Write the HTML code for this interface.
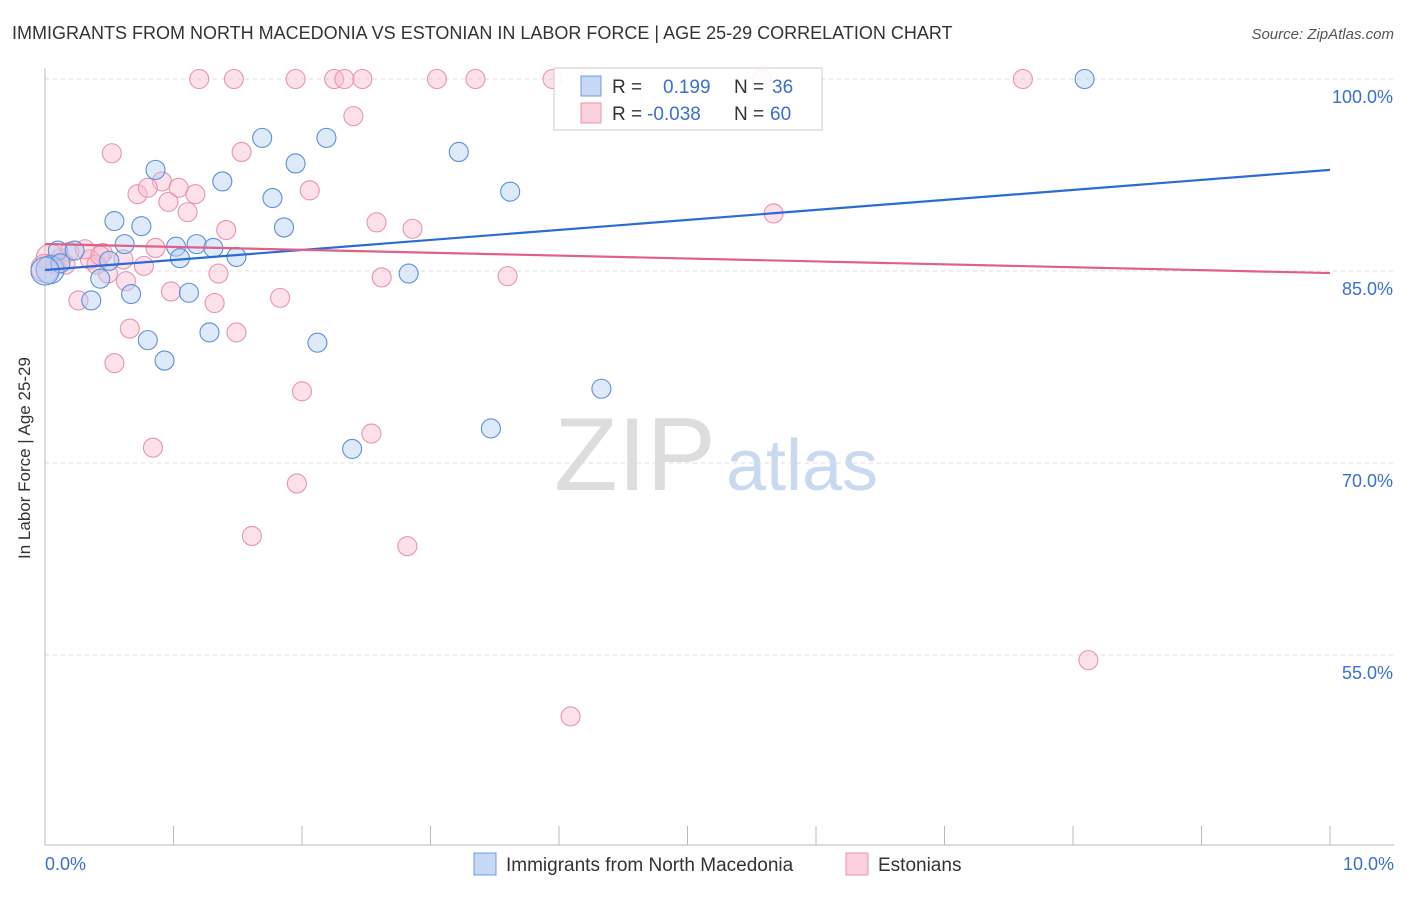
<!DOCTYPE html>
<html><head><meta charset="utf-8"><style>
body{margin:0;background:#fff;font-family:"Liberation Sans",sans-serif;}
svg text{font-family:"Liberation Sans",sans-serif;}
</style></head><body>
<svg id="c" width="1406" height="892">
<text x="12" y="39" font-size="18" fill="#333">IMMIGRANTS FROM NORTH MACEDONIA VS ESTONIAN IN LABOR FORCE | AGE 25-29 CORRELATION CHART</text>
<text x="1394" y="39" font-size="15" fill="#555" text-anchor="end" font-style="italic">Source: ZipAtlas.com</text>
<text x="30" y="458" font-size="17" fill="#333" text-anchor="middle" transform="rotate(-90 30 458)">In Labor Force | Age 25-29</text>
<g><text x="635" y="490" font-size="104" fill="#ddd" text-anchor="middle" font-family="Liberation Serif">ZIP</text><text x="802" y="490" font-size="72" fill="#c9d9ef" text-anchor="middle">atlas</text></g>
<g id="grid"></g><g id="pts"></g><g id="lines"></g>
<g>
<rect x="554" y="68" width="268" height="62" fill="#fff" fill-opacity="0.9" stroke="#ccc"/>
<rect x="581" y="76" width="20" height="20" fill="#c5d9f5" stroke="#6d9de0"/>
<rect x="581" y="103" width="20" height="20" fill="#fbd0dd" stroke="#e993b0"/>
<text x="612" y="93" font-size="19" fill="#333">R = </text><text x="663" y="93" font-size="19" fill="#3a6fd0">0.199</text>
<text x="734" y="93" font-size="19" fill="#333">N = </text><text x="772" y="93" font-size="19" fill="#3a6fd0">36</text>
<text x="612" y="120" font-size="19" fill="#333">R = </text><text x="647" y="120" font-size="19" fill="#3a6fd0">-0.038</text>
<text x="734" y="120" font-size="19" fill="#333">N = </text><text x="770" y="120" font-size="19" fill="#3a6fd0">60</text>
</g>
<g>
<rect x="474" y="853" width="22" height="22" fill="#c5d9f5" stroke="#6d9de0"/>
<text x="506" y="871" font-size="19" fill="#333">Immigrants from North Macedonia</text>
<rect x="846" y="853" width="22" height="22" fill="#fbd0dd" stroke="#e993b0"/>
<text x="878" y="871" font-size="19" fill="#333">Estonians</text>
</g>
</svg>
<script>
const yTicks=[100,85,70,55];
const xTickLabels=["0.0%","10.0%"];
const blueX=[8.09,1.69,2.19,1.95,3.22,0.86,1.38,3.62,1.77,0.54,0.75,1.86,0.62,1.02,1.18,1.31,1.05,1.49,0.50,0.43,2.83,0.67,1.12,0.36,1.28,0.80,2.12,0.93,4.33,3.47,2.39,0.10,0.23,0.04,0.12,0.0];
const blueY=[100,95.4,95.4,93.4,94.3,92.9,92.0,91.2,90.7,88.9,88.5,88.4,87.1,86.9,87.1,86.8,86.0,86.1,85.8,84.4,84.8,83.2,83.3,82.7,80.2,79.6,79.4,78.0,75.8,72.7,71.1,86.6,86.6,85.1,85.6,85.0];
const pinkX=[1.20,1.47,1.95,2.25,2.33,2.47,3.05,3.35,3.95,5.58,7.61,2.40,0.52,1.53,0.91,0.72,0.80,1.04,1.17,0.96,1.11,2.06,2.58,2.86,1.41,5.67,0.86,0.45,0.61,0.77,1.35,2.62,3.60,0.63,0.98,1.83,0.26,1.32,0.66,1.49,0.54,2.00,2.54,0.84,1.96,1.61,2.82,8.12,4.09,0.12,0.19,0.35,0.40,0.04,0.08,0.16,0.31,0.43,0.49,0.0];
const pinkY=[100,100,100,100,100,100,100,100,100,100,100,97.1,94.2,94.3,92.0,91.0,91.5,91.5,91.0,90.4,89.6,91.3,88.8,88.3,88.2,89.5,86.8,86.4,85.9,85.4,84.8,84.5,84.6,84.2,83.4,82.9,82.7,82.5,80.5,80.2,77.8,75.6,72.3,71.2,68.4,64.3,63.5,54.6,50.2,86.0,86.5,85.9,85.5,86.0,85.5,85.5,86.7,86.2,84.8,85.2];
const blueTrend=[85.08,92.9];
const pinkTrend=[87.11,84.84];
const X=v=>45+v*128.5, Y=v=>79+(100-v)*12.8;
const NS="http://www.w3.org/2000/svg";
function mk(t,a,p){const e=document.createElementNS(NS,t);for(const k in a)e.setAttribute(k,a[k]);p.appendChild(e);return e;}
const g=document.getElementById('grid');
yTicks.forEach(t=>{
 const l=mk('line',{x1:45,x2:1394,y1:Y(t),y2:Y(t),stroke:'#ddd','stroke-dasharray':'4 4'},g);
 
 
 const tx=mk('text',{x:1393,y:Y(t)+24,'font-size':18,fill:'#3a6fd0','text-anchor':'end'},g);
 tx.textContent=t.toFixed(1)+'%';
 
 
});
const ax=mk('line',{x1:45,x2:45,y1:68,y2:845,stroke:'#bbb'},g);


const bx=mk('line',{x1:45,x2:1394,y1:845,y2:845,stroke:'#bbb'},g);


for(let i=0;i<=10;i++){const t=mk('line',{x1:X(i),x2:X(i),y1:826,y2:845,stroke:'#bbb'},g);
 
 }
[[0,'start',45],[10,'end',1394]].forEach((d,i)=>{const t=mk('text',{x:d[2],y:870,'font-size':18,fill:'#3a6fd0','text-anchor':d[1]},g);t.textContent=xTickLabels[i];
 
 });
const p=document.getElementById('pts');
function draw(xs,ys,fill,stroke,name){xs.forEach((x,i)=>{const big=x<0.05;
 const c=mk('circle',{cx:X(x),cy:Y(ys[i]),r:big?14:9.5,fill:fill,'fill-opacity':0.45,stroke:stroke,'stroke-width':1.1},p);
 
 });}
draw(pinkX,pinkY,'#f8bcd0','#e993b0','point-estonian');
draw(blueX,blueY,'#b5cff2','#5b8fdc','point-north-macedonia');
const L=document.getElementById('lines');
const bl=mk('line',{x1:X(0),y1:Y(blueTrend[0]),x2:X(10),y2:Y(blueTrend[1]),stroke:'#2b6bd6','stroke-width':2.2},L);


const pl=mk('line',{x1:X(0),y1:Y(pinkTrend[0]),x2:X(10),y2:Y(pinkTrend[1]),stroke:'#e0608a','stroke-width':2.2},L);


</script>
</body></html>
